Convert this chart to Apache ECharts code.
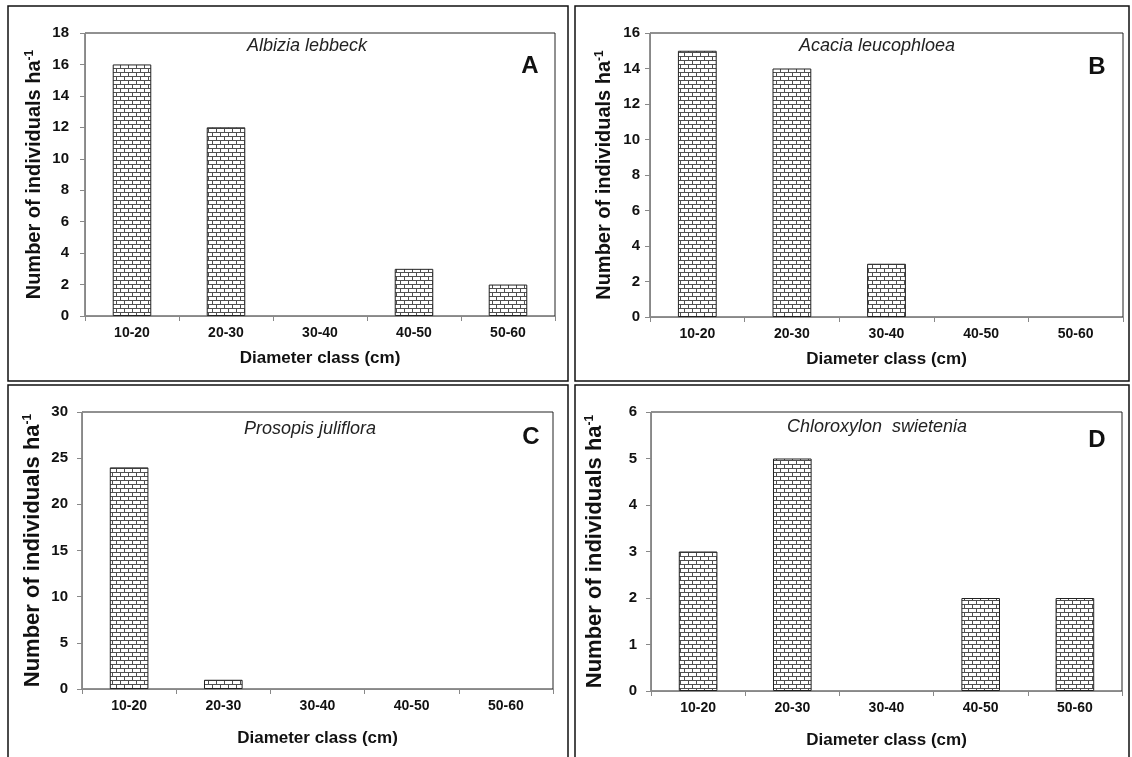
<!DOCTYPE html>
<html><head><meta charset="utf-8">
<script src="https://cdn.jsdelivr.net/npm/echarts@6/dist/echarts.min.js"></script>
<style>html,body{margin:0;padding:0;background:#fff}#c{width:1132px;height:757px}</style>
</head><body><div id="c"></div>
<script>
const categories = ['10-20','20-30','30-40','40-50','50-60'];
const speciesNames = ['Albizia lebbeck','Acacia leucophloea','Prosopis juliflora','Chloroxylon  swietenia'];
const panelLetters = ['A','B','C','D'];
const valuesA = [16,12,0,3,2];
const valuesB = [15,14,3,0,0];
const valuesC = [24,1,0,0,0];
const valuesD = [3,5,0,2,2];
const yMaxes = [18,16,30,6];
const ySteps = [2,2,5,1];
const xTitle = 'Diameter class (cm)';
const yTitle = 'Number of individuals ha';
const ySup = '-1';

const allValues = [valuesA, valuesB, valuesC, valuesD];
const FONT = "'Liberation Sans', Arial, sans-serif";

function brick(){
  const c = document.createElement('canvas'); c.width = 8; c.height = 8;
  const g = c.getContext('2d');
  g.fillStyle = '#fff'; g.fillRect(0,0,8,8);
  g.fillStyle = '#505050';
  g.fillRect(0,0,8,1); g.fillRect(0,4,8,1);
  g.fillRect(0,0,1,4); g.fillRect(4,4,1,4);
  return c;
}
const pattern = brick();

const grids = [
  {left:85, top:33, width:470, height:283},
  {left:650, top:33, width:473, height:284},
  {left:82, top:412, width:471, height:277},
  {left:651, top:412, width:471, height:279}
];
const yLabelMargin = [16, 10, 14, 14];
const yNameGap = [41, 36, 38, 45];
const yNameSize = [20, 20, 22, 22];
const xNameGap = [34, 34, 41, 41];
const speciesPos = [[307,46],[877,46],[310,429],[877,427]];
const letterPos = [[530,66],[1097,67],[531,437],[1097,440]];
const borders = [[8,6,560,375],[575,6,554,375],[8,385,560,380],[575,385,554,380]];

const option = {
  animation:false,
  backgroundColor:'#fff',
  textStyle:{fontFamily:FONT},
  grid: grids.map(g => Object.assign({show:true, borderColor:'#222', borderWidth:1, backgroundColor:'transparent', containLabel:false}, g)),
  xAxis: grids.map((g,i) => ({
    type:'category', gridIndex:i, data:categories,
    axisLine:{show:true, lineStyle:{color:'#888', width:1}},
    axisTick:{show:true, length:5, alignWithLabel:false, lineStyle:{color:'#888'}},
    axisLabel:{fontSize:14, fontWeight:'bold', color:'#111', margin:10, fontFamily:FONT},
    splitLine:{show:false},
    name:xTitle, nameLocation:'middle', nameGap:xNameGap[i],
    nameTextStyle:{fontSize:17, fontWeight:'bold', color:'#111', fontFamily:FONT}
  })),
  yAxis: grids.map((g,i) => ({
    type:'value', gridIndex:i, min:0, max:yMaxes[i], interval:ySteps[i],
    axisLine:{show:true, lineStyle:{color:'#888', width:1}},
    axisTick:{show:true, length:5, lineStyle:{color:'#888'}},
    axisLabel:{fontSize:15, fontWeight:'bold', color:'#111', margin:yLabelMargin[i], fontFamily:FONT},
    splitLine:{show:false},
    name: yTitle + '{s|' + ySup + '}', nameLocation:'middle', nameRotate:90, nameGap:yNameGap[i],
    nameTextStyle:{fontSize:yNameSize[i], fontWeight:'bold', color:'#111', fontFamily:FONT,
      rich:{s:{fontSize:12, fontWeight:'bold', color:'#111', verticalAlign:'top', fontFamily:FONT}}}
  })),
  series: allValues.map((vals,i) => ({
    type:'bar', xAxisIndex:i, yAxisIndex:i, barWidth:'41%',
    itemStyle:{color:{image:pattern, repeat:'repeat'}, borderColor:'#222', borderWidth:1},
    data: vals.map(v => v === 0 ? {value:0, itemStyle:{borderWidth:0}} : v)
  })),
  graphic: [].concat(
    borders.map(b => ({type:'rect', shape:{x:b[0], y:b[1], width:b[2], height:b[3]}, style:{fill:'none', stroke:'#111', lineWidth:1.5}, silent:true})),
    speciesNames.map((s,i) => ({type:'text', x:speciesPos[i][0], y:speciesPos[i][1],
      style:{text:s, font:'italic 18px ' + FONT, fill:'#222', textAlign:'center', textVerticalAlign:'middle', align:'center', verticalAlign:'middle'}})),
    panelLetters.map((s,i) => ({type:'text', x:letterPos[i][0], y:letterPos[i][1],
      style:{text:s, font:'bold 24px ' + FONT, fill:'#111', textAlign:'center', textVerticalAlign:'middle', align:'center', verticalAlign:'middle'}}))
  )
};
const chart = echarts.init(document.getElementById('c'), null, {renderer:'canvas'});
chart.setOption(option);
</script>
</body></html>
